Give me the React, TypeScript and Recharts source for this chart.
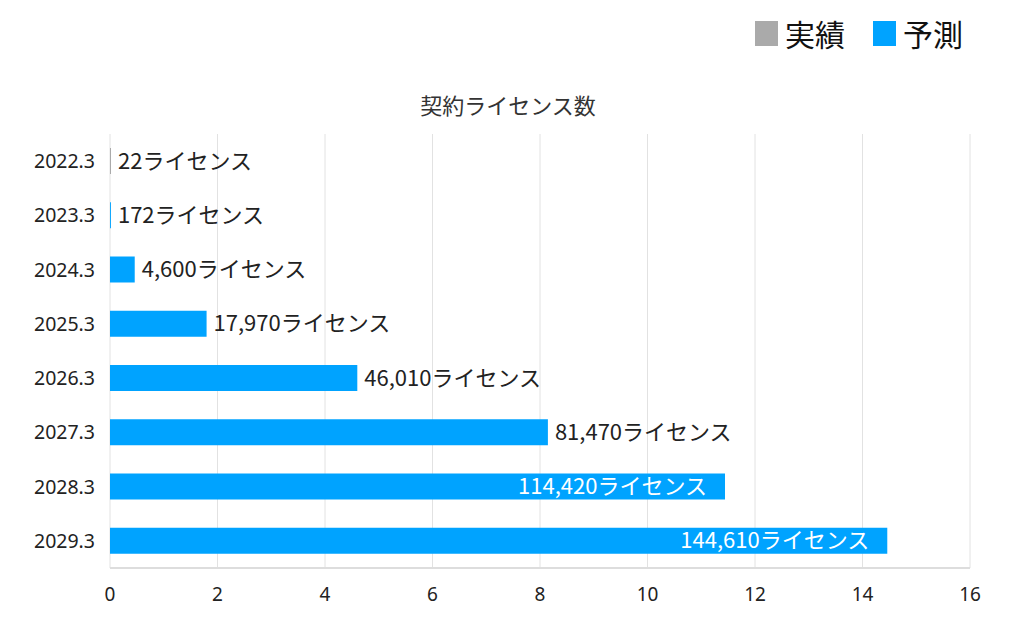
import React from "react";
import { BarChart, Bar, XAxis, YAxis, CartesianGrid, LabelList } from "recharts";

const categories = ["2022.3", "2023.3", "2024.3", "2025.3", "2026.3", "2027.3", "2028.3", "2029.3"];
const licenses = [22, 172, 4600, 17970, 46010, 81470, 114420, 144610];
const isActual = [true, false, false, false, false, false, false, false];
const xTicks = [0, 2, 4, 6, 8, 10, 12, 14, 16];

const GRAY = "#aaaaaa";
const BLUE = "#00a3ff";
const FONT = "'Noto Sans', 'Noto Sans CJK JP', sans-serif";
const JP_FONT = "'Noto Sans CJK JP', sans-serif";

// chart is in units of 10,000 licenses
const chartData = categories.map((cat, i) => ({
    cat,
    actual: isActual[i] ? licenses[i] / 10000 : 0,
    forecast: isActual[i] ? 0 : licenses[i] / 10000,
}));

// each series only labels the rows it actually owns
const makeLabel = (own: boolean) => (props: any) => {
    const { y, height, value } = props;
    const i = categories.indexOf(value);
    if (i < 0 || isActual[i] !== own) return null;
    const text = `${licenses[i].toLocaleString("en-US")}ライセンス`;
    const inside = i >= 6;
    const end = Number(props.x) + Number(props.width);
    return (
        <text
            x={inside ? end - 18 : end + 7}
            y={Number(y) + Number(height) / 2}
            dy="0.35em"
            textAnchor={inside ? "end" : "start"}
            fill={inside ? "#ffffff" : "#222222"}
            fontSize={22}
            fontFamily={JP_FONT}
        >
            {text}
        </text>
    );
};

const tinyMin = (value: any) => (Number(value) > 0 ? 1 : 0);

export default function App() {
    return (
        <div style={{ position: "relative", width: 1000, height: 610 }}>
            <div style={{ position: "absolute", top: 3, left: 747, display: "flex", alignItems: "center", fontFamily: JP_FONT, fontSize: 30, color: "#111" }}>
                <span style={{ width: 23, height: 25, background: GRAY, display: "inline-block", marginRight: 7 }} />
                <span style={{ marginRight: 28 }}>実績</span>
                <span style={{ width: 23, height: 25, background: BLUE, display: "inline-block", marginRight: 7 }} />
                <span>予測</span>
            </div>
            <div style={{ position: "absolute", top: 80, left: 0, width: 1000, textAlign: "center", fontFamily: JP_FONT, fontSize: 22, color: "#333" }}>
                契約ライセンス数
            </div>
            <BarChart
                width={1000}
                height={610}
                data={chartData}
                layout="vertical"
                margin={{ top: 126, right: 38, bottom: 10, left: 0 }}
                barSize={26}
            >
                <CartesianGrid horizontal={false} stroke="#e2e2e2" />
                <XAxis
                    type="number"
                    domain={[0, 16]}
                    ticks={xTicks}
                    height={40}
                    axisLine={{ stroke: "#dddddd", strokeWidth: 2 }}
                    tickLine={false}
                    tickMargin={14}
                    tick={{ fontSize: 19, fill: "#222", fontFamily: FONT }}
                />
                <YAxis
                    type="category"
                    dataKey="cat"
                    width={102}
                    axisLine={false}
                    tickLine={false}
                    tickSize={0}
                    tickMargin={15}
                    tick={{ fontSize: 19.5, fill: "#222", fontFamily: FONT }}
                />
                <Bar dataKey="actual" stackId="a" fill={GRAY} minPointSize={tinyMin} isAnimationActive={false}>
                    <LabelList dataKey="cat" content={makeLabel(true)} />
                </Bar>
                <Bar dataKey="forecast" stackId="a" fill={BLUE} isAnimationActive={false}>
                    <LabelList dataKey="cat" content={makeLabel(false)} />
                </Bar>
            </BarChart>
        </div>
    );
}
